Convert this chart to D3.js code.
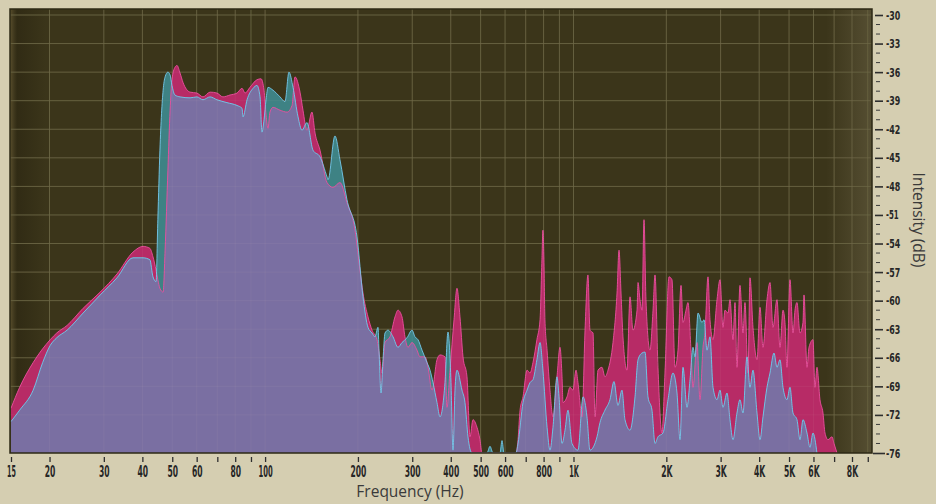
<!DOCTYPE html>
<html>
<head>
<meta charset="utf-8">
<script src="https://cdn.jsdelivr.net/npm/d3@7"></script>
<style>
  html, body { margin: 0; padding: 0; background: #d5ceb1; }
  svg { display: block; }
</style>
</head>
<body>
<svg id="chart" width="936" height="504"></svg>
<script>
// Left channel spectrum (Hz, dB)
const leftFreq = [15,16.0,17.7,20.1,21.1,22.8,25.7,29.2,33.1,37.3,40.2,42.3,43.3,44.3,44.9,45.6,46.7,47.4,48.4,49.2,
  49.9,51.0,51.8,53.0,54.2,57.1,60.1,62.9,66.3,69.8,73.0,77.0,81.1,84.2,86.1,89.3,94.1,97.0,99.2,100.7,
  102.2,103.7,106.1,111.8,117.8,122.3,125.0,129.8,132.7,136.7,141.9,145.2,150.7,158.8,166.0,174.9,184.3,195.7,203.1,207.7,
  215.6,222.2,230.6,235.8,239.4,244.8,254.1,263.8,269.7,277.9,284.2,290.6,299.5,310.9,317.9,330.0,337.5,347.7,360.9,369.1,
  383.1,388.9,397.7,409.8,419.0,428.5,438.3,451.5,461.8,472.2,486.5,497.5,505,
  651,661,671,686,707,723,739,761,779,790,796,802,808,821,839,858,884,904,918,925,
  953,974,996,1019,1034,1066,1090,1114,1131,1157,1174,1201,1237,1265,1294,1343,1384,1405,1426,1447,
  1491,1525,1559,1607,1619,1643,1668,1693,1718,1770,1811,1838,1879,1936,1980,2040,2086,2134,2182,2232,
  2265,2316,2351,2404,2441,2515,2572,2630,2669,2730,2771,2834,2920,2986,3053,3099,3170,3217,3290,3340,
  3389,3466,3545,3598,3680,3735,3820,3936,4025,4116,4241,4337,4435,4569,4673,4779,4850,4923,5035,5150,
  5227,5305,5426,5548,5590,5717,5803,5978,6068,6159,6299,6442,6539,6687,6890,6994,7152];
const leftDb = [-71.3,-69.1,-66.5,-64.1,-63.4,-62.6,-60.8,-59.1,-57.2,-54.9,-54.3,-54.5,-55.4,-56.8,-57.8,-58.7,-59.1,-54.7,-46.3,-40.0,
  -36.8,-35.5,-35.3,-36.1,-37.1,-38.1,-38.2,-38.6,-38.1,-38.2,-38.6,-38.4,-38.2,-37.7,-38.2,-37.6,-36.8,-36.7,-37.9,-40.5,
  -41.9,-40.2,-39.7,-40.0,-40.2,-39.5,-36.5,-38.1,-40.0,-42.1,-40.2,-42.4,-44.2,-47.6,-48.1,-47.6,-49.7,-52.6,-56.8,-59.2,
  -61.7,-63.1,-64.1,-66.2,-67.6,-64.4,-63.8,-61.7,-61.0,-61.7,-63.8,-64.9,-64.4,-65.2,-65.9,-65.9,-67.0,-69.4,-66.2,-65.7,
  -65.9,-71.2,-67.3,-62.0,-58.7,-61.7,-65.9,-68.0,-74.3,-72.5,-73.3,-74.6,-76,
  -76.0,-74.6,-71.5,-70.1,-67.3,-67.6,-66.5,-64.1,-62.0,-55.7,-52.6,-55.7,-62.0,-65.2,-69.4,-72.2,-68.0,-64.9,-68.0,-70.7,
  -70.1,-69.1,-69.4,-67.3,-68.6,-72.2,-63.1,-57.3,-63.1,-63.4,-72.2,-67.3,-67.0,-68.0,-67.3,-64.4,-59.2,-54.7,-59.2,-63.8,
  -67.3,-59.6,-63.1,-61.0,-58.1,-59.9,-61.0,-51.5,-59.9,-65.2,-61.0,-57.3,-67.0,-73.9,-67.6,-57.5,-57.8,-67.0,-65.2,-58.4,
  -62.3,-61.0,-60.2,-65.2,-69.1,-64.4,-70.4,-64.9,-63.4,-57.5,-62.0,-64.1,-59.9,-57.8,-62.8,-61.0,-61.3,-59.9,-64.1,-60.2,
  -67.0,-58.4,-63.4,-60.2,-67.6,-57.6,-62.8,-66.2,-60.7,-64.9,-59.9,-58.1,-62.8,-59.9,-64.9,-61.0,-62.3,-67.0,-57.8,-63.4,
  -61.0,-60.2,-63.4,-62.3,-59.4,-67.0,-64.9,-64.1,-69.1,-67.0,-70.4,-71.8,-73.9,-74.6,-74.3,-75.0,-76.0];

// Right channel spectrum (Hz, dB)
const rightFreq = [15,16.0,17.7,19.0,20.1,21.1,22.8,25.7,29.2,33.1,37.3,40.2,42.3,43.3,44.3,44.9,45.6,46.7,47.4,48.4,
  49.2,49.9,51.0,53.0,57.1,60.1,62.9,66.3,69.8,75.2,81.1,84.2,84.8,87.4,91.4,94.1,96.3,97.7,99.2,100.7,
  102.2,106.1,111.8,116.0,119.5,123.2,127.9,131.7,136.7,143.0,150.7,158.8,160.0,168.5,174.9,184.3,198.6,207.7,215.6,222.2,
  227.2,232.3,234.1,237.6,241.2,244.8,250.4,259.9,269.7,277.9,288.5,299.5,306.2,313.2,322.7,335.0,342.6,350.3,360.9,369.1,
  383.1,391.8,400.7,406.7,412.8,419.0,435.0,444.8,454.9,468.7,524.2,536.1,548.3,577.7,586.4,595.2,651,
  661,686,707,723,739,761,779,796,821,839,858,884,897.5,918,938.6,959.8,988.9,1034,1074,1106,
  1131,1192,1219,1265,1313,1353,1394,1436,1469,1525,1583,1619,1668,1706,1744,1797,1838,1879,1951,2025,
  2102,2166,2215,2265,2334,2387,2441,2477,2534,2610,2650,2710,2771,2834,2920,2986,3053,3146,3217,3290,
  3389,3466,3545,3652,3735,3820,3936,4025,4116,4241,4337,4468,4569,4673,4779,4923,5035,5150,5305,5426,
  5548,5717,5846,5978,6159];
const rightDb = [-72.7,-71.5,-69.4,-66.5,-64.7,-63.9,-63.1,-61.3,-59.4,-57.6,-55.5,-55.5,-55.7,-57.5,-58.0,-51.5,-44.2,-37.9,-36.5,-36.0,
  -36.3,-37.4,-38.4,-38.6,-38.7,-38.6,-38.9,-38.6,-38.9,-39.2,-39.5,-39.8,-40.7,-38.9,-37.7,-37.4,-38.6,-42.3,-41.0,-38.9,
  -37.6,-37.9,-38.6,-39.1,-36.0,-37.6,-40.7,-42.1,-41.3,-44.2,-44.9,-47.0,-47.3,-42.7,-45.2,-49.4,-53.3,-59.6,-62.8,-63.4,
  -63.8,-62.8,-65.2,-69.7,-66.2,-63.4,-63.1,-63.8,-64.9,-64.4,-63.9,-63.1,-63.8,-64.1,-65.2,-66.5,-67.3,-68.6,-70.7,-72.2,
  -68.6,-63.3,-68.6,-75.7,-69.4,-67.3,-69.4,-70.7,-74.3,-76,-76,-75.3,-76,-76,-74.7,-76,-76,
  -75.0,-70.7,-69.4,-68.6,-68.3,-66.2,-64.4,-67.3,-73.3,-75.7,-73.3,-68.0,-70.1,-75.0,-73.6,-71.5,-75.0,-75.7,-70.1,-72.2,
  -75.7,-74.3,-72.8,-71.5,-70.4,-68.5,-71.0,-69.4,-72.5,-73.6,-70.1,-66.2,-65.5,-65.4,-70.1,-71.5,-75.0,-74.3,-73.9,-70.4,
  -67.6,-69.7,-74.6,-67.0,-71.2,-68.3,-64.9,-65.9,-61.3,-62.3,-62.0,-65.2,-63.8,-69.1,-70.4,-69.4,-71.2,-69.7,-72.5,-74.6,
  -71.8,-70.4,-71.8,-65.9,-69.1,-67.3,-71.8,-74.6,-72.2,-69.1,-67.6,-65.5,-67.0,-66.2,-69.1,-70.4,-69.1,-71.8,-72.5,-74.6,
  -72.5,-73.9,-75.4,-73.9,-76];

// Axis ticks and labels
const freqTicks = [15,20,30,40,50,60,70,80,90,100,200,300,400,500,600,700,800,900,1000,2000,3000,4000,5000,6000,7000,8000,9000];
const freqLabels = ["15","20","30","40","50","60","","80","","100","200","300","400","500","600","","800","","1K","2K","3K","4K","5K","6K","","8K",""];
const dbTicks = [-30,-33,-36,-39,-42,-45,-48,-51,-54,-57,-60,-63,-66,-69,-72,-76];
const dbLabels = ["-30","-33","-36","-39","-42","-45","-48","-51","-54","-57","-60","-63","-66","-69","-72","-76"];

const svg = d3.select("#chart");
const P = { left: 10, top: 9, right: 872, bottom: 453 };

const x = d3.scaleLog().domain([15, 8000]).range([11, 852]);
const y = d3.scaleLinear().domain([-76, -30]).range([453, 15]);

const leftData = leftFreq.map((f, i) => ({ f, db: leftDb[i] }));
const rightData = rightFreq.map((f, i) => ({ f, db: rightDb[i] }));

const area = d3.area()
  .x(d => x(d.f)).y0(y(-76)).y1(d => y(d.db))
  .curve(d3.curveMonotoneX);
const line = d3.line()
  .x(d => x(d.f)).y(d => y(d.db))
  .curve(d3.curveMonotoneX);

// frame background
svg.append("rect").attr("width", 936).attr("height", 504).attr("fill", "#d5ceb1");

const defs = svg.append("defs");
defs.append("clipPath").attr("id", "plotClip")
  .append("rect").attr("x", P.left).attr("y", P.top)
  .attr("width", P.right - P.left).attr("height", P.bottom - P.top);
defs.append("clipPath").attr("id", "rightClip")
  .append("path").attr("d", area(rightData));

const lg = defs.append("linearGradient").attr("id", "leftShade").attr("x1", 0).attr("x2", 1).attr("y1", 0).attr("y2", 0);
lg.append("stop").attr("offset", 0).attr("stop-color", "#7a6a40").attr("stop-opacity", 0.5);
lg.append("stop").attr("offset", 0.2).attr("stop-color", "#1e190a").attr("stop-opacity", 0.35);
lg.append("stop").attr("offset", 1).attr("stop-color", "#1e190a").attr("stop-opacity", 0);
const rg = defs.append("linearGradient").attr("id", "rightShade").attr("x1", 0).attr("x2", 1).attr("y1", 0).attr("y2", 0);
rg.append("stop").attr("offset", 0).attr("stop-color", "#9a9070").attr("stop-opacity", 0);
rg.append("stop").attr("offset", 1).attr("stop-color", "#9a9070").attr("stop-opacity", 0.28);

// plot panel
svg.append("rect")
  .attr("x", P.left).attr("y", P.top)
  .attr("width", P.right - P.left).attr("height", P.bottom - P.top)
  .attr("fill", "#3b351a");

const plot = svg.append("g").attr("clip-path", "url(#plotClip)");

// edge shading of the panel background
plot.append("rect").attr("x", P.left).attr("y", P.top).attr("width", 36).attr("height", P.bottom - P.top)
  .attr("fill", "url(#leftShade)");
plot.append("rect").attr("x", 826).attr("y", P.top).attr("width", P.right - 826).attr("height", P.bottom - P.top)
  .attr("fill", "url(#rightShade)");

function drawGrid(g, color, width) {
  g.selectAll("line.v").data(freqTicks.filter(f => f > 15)).join("line")
    .attr("class", "v")
    .attr("x1", d => x(d)).attr("x2", d => x(d))
    .attr("y1", P.top).attr("y2", P.bottom)
    .attr("stroke", color).attr("stroke-width", width);
  g.selectAll("line.h").data(dbTicks.filter(d => d > -76)).join("line")
    .attr("class", "h")
    .attr("x1", P.left).attr("x2", P.right)
    .attr("y1", d => y(d)).attr("y2", d => y(d))
    .attr("stroke", color).attr("stroke-width", width);
}
drawGrid(plot.append("g"), "#5f5a39", 1);

// spectrum layers: left only, right only, then the shared part
plot.append("path").datum(leftData).attr("d", area).attr("fill", "#b72b66");
plot.append("path").datum(rightData).attr("d", area).attr("fill", "#3e8284");
plot.append("path").datum(leftData).attr("d", area)
  .attr("clip-path", "url(#rightClip)").attr("fill", "#7a6fa2");
plot.append("path").datum(leftData).attr("d", line)
  .attr("fill", "none").attr("stroke", "#ec4fa0").attr("stroke-width", 1).attr("stroke-opacity", 0.9);
plot.append("path").datum(rightData).attr("d", line)
  .attr("fill", "none").attr("stroke", "#74c9ec").attr("stroke-width", 1).attr("stroke-opacity", 0.9);

// faint grid over the fills
drawGrid(plot.append("g"), "rgba(230,225,200,0.06)", 1);

// panel border
svg.append("rect")
  .attr("x", P.left).attr("y", P.top)
  .attr("width", P.right - P.left).attr("height", P.bottom - P.top)
  .attr("fill", "none").attr("stroke", "#2c2814").attr("stroke-width", 1.5);

// condensed label widths
const charW = { "1": 3.6, "K": 6, "-": 4 };
const targetWidth = (s, k) => d3.sum(s.split(""), c => charW[c] || 5.3) * k;
const labelFont = "'Liberation Sans Narrow','DejaVu Sans Condensed','Liberation Sans',sans-serif";

function squeeze(sel, k, dx) {
  sel.each(function () {
    const s = this.textContent;
    if (!s) return;
    const natural = this.getComputedTextLength();
    const sx = natural > 0 ? targetWidth(s, k) / natural : 1;
    d3.select(this).attr("x", 0).attr("transform", `translate(${dx},0) scale(${sx},1)`);
  });
}

// frequency axis
const xAxis = d3.axisBottom(x)
  .tickValues(freqTicks)
  .tickFormat((d, i) => freqLabels[i])
  .tickSize(5).tickPadding(4);
const gx = svg.append("g").attr("transform", "translate(0,457)").call(xAxis);
gx.select(".domain").remove();
gx.selectAll(".tick line").attr("stroke", "#2e2e2e").attr("stroke-width", 1.3);
gx.selectAll(".tick text")
  .attr("fill", "#262626")
  .style("font-family", labelFont).style("font-weight", "bold").style("font-size", "15px")
  .call(squeeze, 1, 0);

// intensity axis: minor ticks every dB, major ticks with labels
const minor = d3.range(-30, -77, -1).filter(d => !dbTicks.includes(d));
svg.append("g").selectAll("line").data(minor).join("line")
  .attr("x1", 876).attr("x2", 880)
  .attr("y1", d => y(d)).attr("y2", d => y(d))
  .attr("stroke", "#3a3a3a").attr("stroke-width", 1);

const yAxis = d3.axisRight(y)
  .tickValues(dbTicks)
  .tickFormat((d, i) => dbLabels[i])
  .tickSize(8).tickPadding(3);
const gy = svg.append("g").attr("transform", "translate(875,0)").call(yAxis);
gy.select(".domain").remove();
gy.selectAll(".tick line").attr("stroke", "#2e2e2e").attr("stroke-width", 1.6)
  .attr("x1", d => d === -76 ? -2 : 0).attr("x2", d => d === -76 ? 10 : 8);
gy.selectAll(".tick text")
  .attr("fill", "#262626")
  .style("font-family", labelFont).style("font-weight", "bold").style("font-size", "12.5px")
  .call(squeeze, 0.98, 11);

// axis titles
svg.append("text")
  .attr("x", 410).attr("y", 497)
  .attr("text-anchor", "middle")
  .attr("fill", "#3a3a3a")
  .style("font-family", "'Open Sans','Noto Sans',sans-serif").style("font-size", "15.5px")
  .text("Frequency (Hz)");
svg.append("text")
  .attr("transform", "translate(913,220) rotate(90)")
  .attr("text-anchor", "middle")
  .attr("fill", "#3a3a3a")
  .style("font-family", "'Open Sans','Noto Sans',sans-serif").style("font-size", "15.5px")
  .text("Intensity (dB)");
</script>
</body>
</html>
